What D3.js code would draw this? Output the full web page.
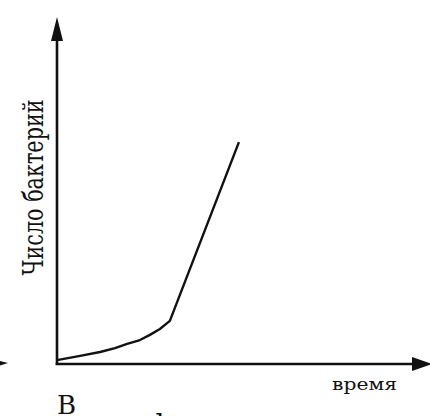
<!DOCTYPE html>
<html>
<head>
<meta charset="utf-8">
<script src="https://cdn.jsdelivr.net/npm/d3@7"></script>
<style>
  html, body { margin: 0; padding: 0; background: #fff; }
  svg { display: block; }
</style>
</head>
<body>
<svg id="chart" width="430" height="416"></svg>
<script>
// Data (arbitrary units)
const time = [0, 0.65, 1.21, 1.63, 1.97, 2.33, 2.61, 2.89, 3.17, 5.11];
const bacteria = [0.12, 0.25, 0.37, 0.49, 0.62, 0.74, 0.9, 1.08, 1.33, 6.85];
const yLabel = "Число бактерий";
const xLabel = "время";
const panelLetter = "В";

const serif = "'DejaVu Serif', 'Liberation Serif', 'Times New Roman', Tinos, 'Noto Serif', serif";

const svg = d3.select("#chart");
svg.append("rect").attr("width", 430).attr("height", 416).attr("fill", "#fff");

const x = d3.scaleLinear().domain([0, 10]).range([57, 413]);
const y = d3.scaleLinear().domain([0, 10]).range([364, 40]);

const ink = "#111";

// Y axis
svg.append("line")
  .attr("x1", x(0)).attr("x2", x(0))
  .attr("y1", y(0) + 1).attr("y2", y(10))
  .attr("stroke", ink).attr("stroke-width", 2.6);
svg.append("path")
  .attr("d", `M${x(0)},17 L${x(0) - 6},${y(10) + 1} L${x(0) + 6},${y(10) + 1} Z`)
  .attr("fill", ink);

// X axis
svg.append("line")
  .attr("x1", x(0) - 1.3).attr("x2", x(10))
  .attr("y1", y(0)).attr("y2", y(0))
  .attr("stroke", ink).attr("stroke-width", 2.6);
svg.append("path")
  .attr("d", `M432,${y(0)} L${x(10) - 1},${y(0) - 7} L${x(10) - 1},${y(0) + 7} Z`)
  .attr("fill", ink);

// fragment of neighbouring panel's arrow at the left edge
svg.append("path")
  .attr("d", `M-8,${y(0) - 5} L8,${y(0) - 1} L-8,${y(0) + 4} Z`)
  .attr("fill", ink);

// Growth curve
const line = d3.line()
  .x((d, i) => x(time[i]))
  .y((d, i) => y(bacteria[i]))
  .curve(d3.curveLinear);
svg.append("path")
  .datum(time)
  .attr("d", line)
  .attr("fill", "none")
  .attr("stroke", ink)
  .attr("stroke-width", 2.4)
  .attr("stroke-linejoin", "round");

// Labels
svg.append("text")
  .attr("transform", "translate(43,187.5) rotate(-90)")
  .attr("text-anchor", "middle")
  .style("font-family", serif)
  .attr("font-size", 28)
  .attr("textLength", 176)
  .attr("lengthAdjust", "spacingAndGlyphs")
  .attr("fill", ink)
  .text(yLabel);

svg.append("text")
  .attr("x", 332).attr("y", 390)
  .style("font-family", serif)
  .attr("font-size", 17)
  .attr("textLength", 65)
  .attr("lengthAdjust", "spacingAndGlyphs")
  .attr("fill", ink)
  .text(xLabel);

svg.append("text")
  .attr("x", 57).attr("y", 414)
  .style("font-family", serif)
  .attr("font-size", 26)
  .attr("fill", ink)
  .text(panelLetter);

svg.append("text")
  .attr("x", 160).attr("y", 436)
  .attr("text-anchor", "middle")
  .style("font-family", serif)
  .attr("font-size", 29)
  .attr("fill", ink)
  .text("ф");
</script>
</body>
</html>
